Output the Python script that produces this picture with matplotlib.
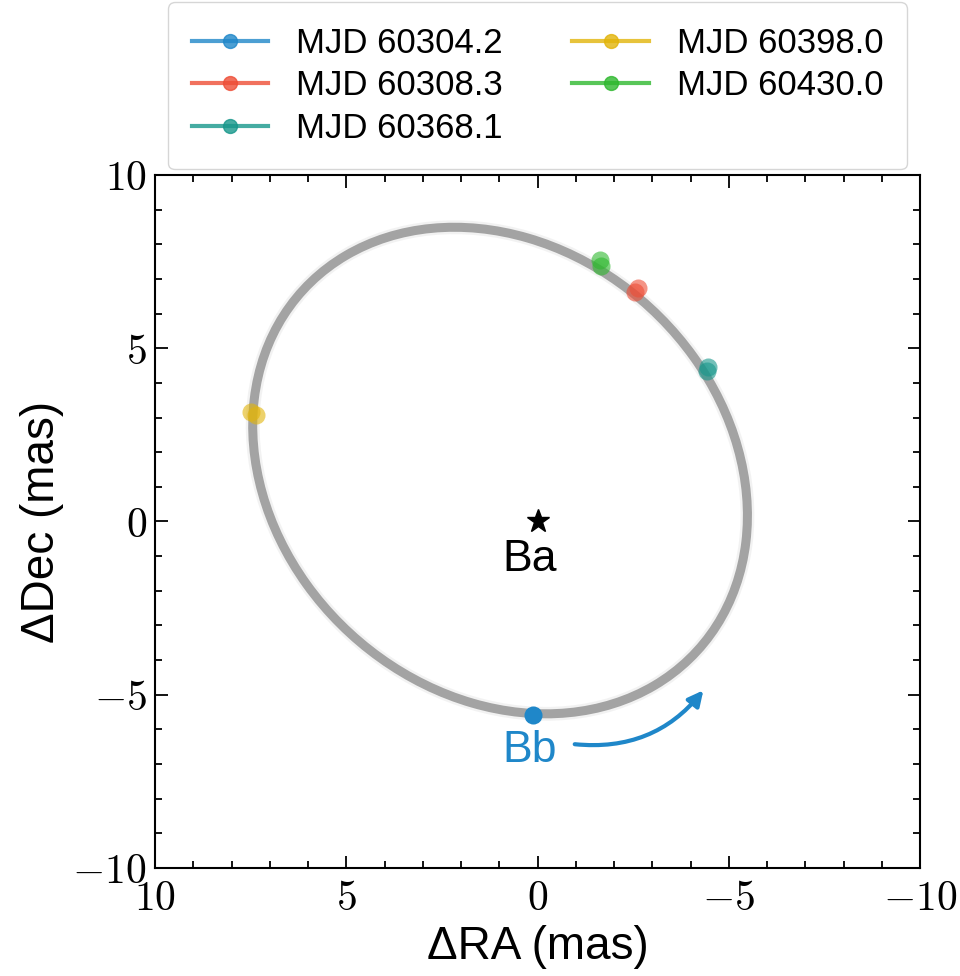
import matplotlib
matplotlib.use("Agg")
import matplotlib.pyplot as plt
from matplotlib.patches import Ellipse

# fitted relative orbit (projected ellipse), mas
orbit_center = (0.98, 1.47)
orbit_width = 2 * 7.40
orbit_height = 2 * 6.03
orbit_angle = 57.0

# epochs and measured positions of Bb relative to Ba (mas)
epochs = ["MJD 60304.2", "MJD 60308.3", "MJD 60368.1", "MJD 60398.0", "MJD 60430.0"]
colors = ["#1f87c9", "#ee4d36", "#17978b", "#e2b40a", "#2eb82e"]
ra_pts = [[0.12], [-2.62, -2.55], [-4.45, -4.42], [7.48, 7.36], [-1.62, -1.66]]
dec_pts = [[-5.58], [6.75, 6.62], [4.47, 4.33], [3.15, 3.07], [7.55, 7.38]]

xticks = [10, 5, 0, -5, -10]
yticks = [-10, -5, 0, 5, 10]

plt.rcParams['font.family'] = ['Liberation Sans', 'DejaVu Sans']
plt.rcParams['mathtext.fontset'] = 'cm'

fig = plt.figure(figsize=(9.6, 9.76), dpi=100)
ax = fig.add_axes([0.1615, 0.1107, 0.7969, 0.7100])

# orbit band
ax.add_patch(Ellipse(orbit_center, orbit_width, orbit_height, angle=orbit_angle,
                     fill=False, edgecolor='0.6', lw=10, alpha=0.12, zorder=1))
ax.add_patch(Ellipse(orbit_center, orbit_width, orbit_height, angle=orbit_angle,
                     fill=False, edgecolor='#a3a3a3', lw=6.5, zorder=2))

# epoch points
for i in range(len(epochs)):
    a = 1.0 if i == 0 else 0.6
    ax.plot(ra_pts[i], dec_pts[i], 'o', color=colors[i], ms=13, mec='none',
            alpha=a, zorder=4)
    ax.plot([], [], '-o', color=colors[i], lw=3, ms=10, alpha=0.8, label=epochs[i])

# primary
ax.plot([0], [0], marker='*', color='k', ms=17, ls='none', zorder=5)
ax.text(0.2, -1.1, 'Ba', fontsize=32, ha='center', va='center', color='k')
ax.text(0.2, -6.6, 'Bb', fontsize=32, ha='center', va='center', color=colors[0])
ax.annotate('', xy=(-4.38, -4.81), xytext=(-0.9, -6.42),
            arrowprops=dict(arrowstyle='-|>,head_length=0.9,head_width=0.45',
                            color=colors[0], lw=3,
                            connectionstyle='arc3,rad=0.28'))

ax.set_xlim(10, -10)
ax.set_ylim(-10, 10)
ax.set_xticks(xticks)
ax.set_xticklabels(['$%g$' % t for t in xticks])
ax.set_yticks(yticks)
ax.set_yticklabels(['$%g$' % t for t in yticks])
ax.minorticks_on()
ax.tick_params(which='both', direction='in', top=True, right=True, labelsize=30, width=1.3)
ax.tick_params(which='major', length=9)
ax.tick_params(which='minor', length=5)
ax.tick_params(axis='x', pad=8)
ax.tick_params(axis='y', pad=6)
for s in ax.spines.values():
    s.set_linewidth(1.5)

ax.set_xlabel('ΔRA (mas)', fontsize=33, labelpad=4)
ax.set_ylabel('ΔDec (mas)', fontsize=33, labelpad=6)

ax.legend(loc='lower center', bbox_to_anchor=(0.5, 1.008), ncol=2, fontsize=25,
          handlelength=2.2, handletextpad=0.8, columnspacing=2.0,
          labelspacing=0.28, borderpad=0.7, borderaxespad=0, frameon=True,
          fancybox=True, edgecolor='#cccccc')

fig.savefig('out.png', dpi=100)
